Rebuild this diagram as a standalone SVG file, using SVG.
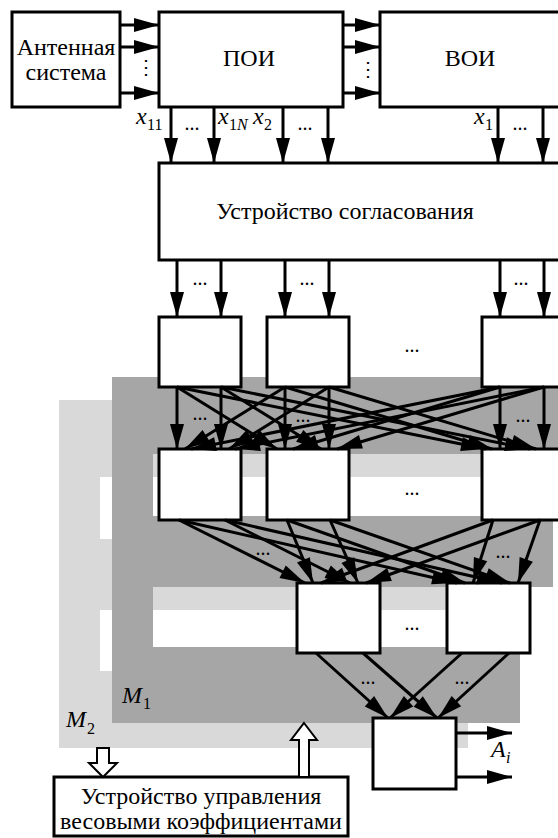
<svg xmlns="http://www.w3.org/2000/svg" width="558" height="838" viewBox="0 0 558 838">
<defs>
<marker id="ah" markerUnits="userSpaceOnUse" markerWidth="25" markerHeight="14" refX="25" refY="7" orient="auto" overflow="visible">
<path d="M0,0 L25,7 L0,14 z" fill="#000"/>
</marker>
<style>
.box{fill:#fff;stroke:#000;stroke-width:3}
.ln{stroke:#000;stroke-width:3;fill:none;marker-end:url(#ah)}
text{font-family:'Liberation Serif','Times New Roman',serif}
.t{font-size:24px;fill:#000}
.i{font-style:italic}
.s{font-size:16px}
.d{font-size:20px;fill:#000;text-anchor:middle}
.hol{fill:#fff;stroke:#000;stroke-width:2}
</style>
</defs>
<rect width="558" height="838" fill="#fff"/>
<g id="backgrounds">
<rect x="59" y="400" width="409" height="348" fill="#d9d9d9"/>
<rect x="100" y="477" width="60" height="62" fill="#fff"/>
<rect x="100" y="610" width="60" height="61" fill="#fff"/>
<rect x="112" y="377" width="448" height="77" fill="#a6a6a6"/>
<rect x="112" y="454" width="441" height="133" fill="#a6a6a6"/>
<rect x="112" y="587" width="408" height="136" fill="#a6a6a6"/>
<rect x="153" y="454" width="407" height="62" fill="#fff"/>
<rect x="153" y="454" width="366" height="23" fill="#d9d9d9"/>
<rect x="153" y="587" width="407" height="60" fill="#fff"/>
<rect x="153" y="587" width="348" height="23" fill="#d9d9d9"/>
<text class="t i" x="122" y="703">M</text><text class="t s" x="143" y="709">1</text>
<text class="t i" x="66" y="727">M</text><text class="t s" x="87" y="734">2</text>
</g>
<g id="antenna">
<rect class="box" x="12" y="12" width="108" height="95"/>
<text class="t" x="66" y="55" text-anchor="middle">Антенная</text>
<text class="t" x="66" y="80" text-anchor="middle">система</text>
</g>
<g id="poi">
<rect class="box" x="159" y="12" width="184" height="95"/>
<text class="t" x="249" y="66" text-anchor="middle">ПОИ</text>
</g>
<g id="voi">
<rect class="box" x="380" y="12" width="190" height="95"/>
<text class="t" x="470" y="66" text-anchor="middle">ВОИ</text>
</g>
<g id="matching">
<rect class="box" x="159" y="163" width="411" height="97"/>
<text class="t" x="345" y="219" text-anchor="middle">Устройство согласования</text>
</g>
<g id="layer1">
<rect class="box" x="159" y="317" width="82" height="70"/>
<rect class="box" x="267" y="317" width="82" height="70"/>
<rect class="box" x="482" y="317" width="82" height="70"/>
<text class="d" x="412" y="352">...</text>
</g>
<g id="layer2">
<rect class="box" x="159" y="449" width="82" height="71"/>
<rect class="box" x="267" y="449" width="82" height="71"/>
<rect class="box" x="482" y="449" width="82" height="71"/>
<text class="d" x="412" y="495">...</text>
</g>
<g id="layer3">
<rect class="box" x="297" y="583" width="83" height="70"/>
<rect class="box" x="447" y="583" width="83" height="70"/>
<text class="d" x="412" y="630">...</text>
</g>
<g id="output">
<rect class="box" x="373" y="718" width="83" height="71"/>
</g>
<g id="controller">
<rect class="box" x="54" y="777" width="294" height="59"/>
<text class="t" x="201" y="804" text-anchor="middle">Устройство управления</text>
<text class="t" x="201" y="829" text-anchor="middle">весовыми коэффициентами</text>
</g>
<g id="connectors">
<line class="ln" x1="120" y1="25" x2="159" y2="25"/>
<line class="ln" x1="120" y1="47" x2="159" y2="47"/>
<line class="ln" x1="120" y1="93" x2="159" y2="93"/>
<text class="d" x="146" y="74">⋮</text>
<line class="ln" x1="343" y1="25" x2="380" y2="25"/>
<line class="ln" x1="343" y1="47" x2="380" y2="47"/>
<line class="ln" x1="343" y1="93" x2="380" y2="93"/>
<text class="d" x="368" y="76">⋮</text>
<line class="ln" x1="171" y1="107" x2="171" y2="163"/>
<line class="ln" x1="214" y1="107" x2="214" y2="163"/>
<line class="ln" x1="283" y1="107" x2="283" y2="163"/>
<line class="ln" x1="328" y1="107" x2="328" y2="163"/>
<line class="ln" x1="498" y1="107" x2="498" y2="163"/>
<line class="ln" x1="543" y1="107" x2="543" y2="163"/>
<text class="t i" x="136" y="124">x</text><text class="t s" x="147" y="130">11</text>
<text class="d" x="192" y="130">...</text>
<text class="t i" x="218" y="124">x</text><text class="t s" x="229" y="130">1<tspan class="i">N</tspan></text>
<text class="t i" x="253" y="124">x</text><text class="t s" x="264" y="130">2</text>
<text class="d" x="305" y="130">...</text>
<text class="t i" x="474" y="124">x</text><text class="t s" x="485" y="130">1</text>
<text class="d" x="520" y="130">...</text>
<line class="ln" x1="177" y1="260" x2="177" y2="317"/>
<line class="ln" x1="221" y1="260" x2="221" y2="317"/>
<line class="ln" x1="285" y1="260" x2="285" y2="317"/>
<line class="ln" x1="329" y1="260" x2="329" y2="317"/>
<line class="ln" x1="500" y1="260" x2="500" y2="317"/>
<line class="ln" x1="544" y1="260" x2="544" y2="317"/>
<text class="d" x="200" y="285">...</text>
<text class="d" x="307" y="285">...</text>
<text class="d" x="521" y="285">...</text>
<line class="ln" x1="177" y1="387" x2="177" y2="449"/>
<line class="ln" x1="221" y1="387" x2="221" y2="449"/>
<line class="ln" x1="177" y1="387" x2="277" y2="449"/>
<line class="ln" x1="221" y1="387" x2="321" y2="449"/>
<line class="ln" x1="177" y1="387" x2="486" y2="449"/>
<line class="ln" x1="221" y1="387" x2="530" y2="449"/>
<line class="ln" x1="285" y1="387" x2="185" y2="449"/>
<line class="ln" x1="329" y1="387" x2="229" y2="449"/>
<line class="ln" x1="285" y1="387" x2="285" y2="449"/>
<line class="ln" x1="329" y1="387" x2="329" y2="449"/>
<line class="ln" x1="285" y1="387" x2="492" y2="449"/>
<line class="ln" x1="329" y1="387" x2="536" y2="449"/>
<line class="ln" x1="500" y1="387" x2="191" y2="449"/>
<line class="ln" x1="544" y1="387" x2="235" y2="449"/>
<line class="ln" x1="500" y1="387" x2="293" y2="449"/>
<line class="ln" x1="544" y1="387" x2="337" y2="449"/>
<line class="ln" x1="500" y1="387" x2="500" y2="449"/>
<line class="ln" x1="544" y1="387" x2="544" y2="449"/>
<text class="d" x="200" y="420">...</text>
<text class="d" x="303" y="422">...</text>
<text class="d" x="523" y="422">...</text>
<line class="ln" x1="179" y1="520" x2="305" y2="583"/>
<line class="ln" x1="225" y1="520" x2="350" y2="583"/>
<line class="ln" x1="179" y1="520" x2="457" y2="583"/>
<line class="ln" x1="225" y1="520" x2="502" y2="583"/>
<line class="ln" x1="287" y1="520" x2="313" y2="583"/>
<line class="ln" x1="330" y1="520" x2="358" y2="583"/>
<line class="ln" x1="287" y1="520" x2="465" y2="583"/>
<line class="ln" x1="330" y1="520" x2="510" y2="583"/>
<line class="ln" x1="493" y1="520" x2="321" y2="583"/>
<line class="ln" x1="540" y1="520" x2="366" y2="583"/>
<line class="ln" x1="493" y1="520" x2="473" y2="583"/>
<line class="ln" x1="540" y1="520" x2="518" y2="583"/>
<text class="d" x="263" y="555">...</text>
<text class="d" x="503" y="558">...</text>
<line class="ln" x1="316" y1="653" x2="388" y2="718"/>
<line class="ln" x1="363" y1="653" x2="437" y2="718"/>
<line class="ln" x1="462" y1="653" x2="390" y2="718"/>
<line class="ln" x1="509" y1="653" x2="438" y2="718"/>
<text class="d" x="368" y="684">...</text>
<text class="d" x="462" y="684">...</text>
<line class="ln" x1="456" y1="733" x2="512" y2="733"/>
<line class="ln" x1="456" y1="777" x2="512" y2="777"/>
<text class="t i" x="491" y="757">A</text><text class="t s i" x="506" y="763">i</text>
<polygon class="hol" points="97,748 109,748 109,763 117,763 103,777 89,763 97,763"/>
<polygon class="hol" points="304,723 317,740 309,740 309,777 299,777 299,740 291,740"/>
</g>
</svg>
